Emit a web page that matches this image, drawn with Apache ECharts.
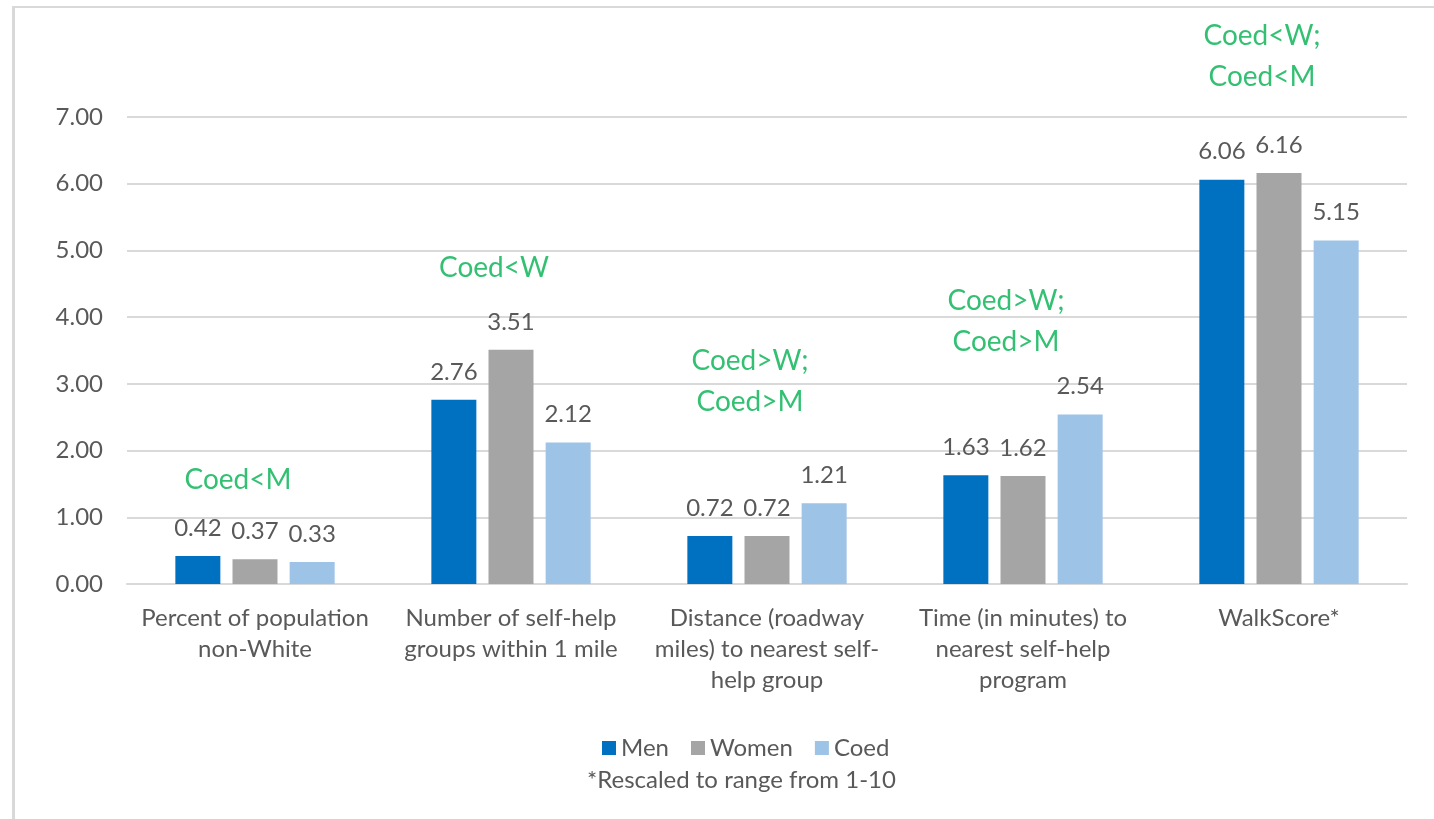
<!DOCTYPE html>
<html>
<head>
<meta charset="utf-8">
<script src="https://cdn.jsdelivr.net/npm/echarts@6/dist/echarts.min.js"></script>
<style>
  html, body { margin: 0; padding: 0; background: #fff; }
  #main { width: 1434px; height: 819px; position: relative; }
  .frame { position: absolute; left: 12px; top: 6px; right: 0; bottom: 0;
    border-top: 2px solid #d9d9d9; border-left: 3px solid #d9d9d9; pointer-events: none; }
</style>
</head>
<body>
<div id="main"></div>
<div class="frame"></div>
<script>
// categories and values
const categories = [
  'Percent of population\nnon-White',
  'Number of self-help\ngroups within 1 mile',
  'Distance (roadway\nmiles) to nearest self-\nhelp group',
  'Time (in minutes) to\nnearest self-help\nprogram',
  'WalkScore*'
]
const men = [0.42, 2.76, 0.72, 1.63, 6.06]
const women = [0.37, 3.51, 0.72, 1.62, 6.16]
const coed = [0.33, 2.12, 1.21, 2.54, 5.15]
const yTicks = [0, 1, 2, 3, 4, 5, 6, 7]

// green significance notes: [category index, y value, text]
const notes = [
  [0, 1.56, 'Coed<M'],
  [1, 4.74, 'Coed<W'],
  [2, 3.04, 'Coed>W;\nCoed>M'],
  [3, 3.93, 'Coed>W;\nCoed>M'],
  [4, 7.9, 'Coed<W;\nCoed<M']
]

const font = 'Lato, "Liberation Sans", sans-serif'
const grey = '#595959'

const myChart = echarts.init(document.getElementById('main'))

const barLabel = {
  show: true,
  position: 'top',
  distance: 16,
  fontSize: 24,
  fontFamily: font,
  color: grey,
  formatter: p => p.value.toFixed(2)
}

const option = {
  backgroundColor: '#fff',
  animation: false,
  textStyle: { fontFamily: font },
  title: {
    text: '*Rescaled to range from 1-10',
    left: 582,
    top: 763,
    textStyle: { fontSize: 24, fontWeight: 'normal', color: grey, fontFamily: font }
  },
  legend: {
    left: 597,
    top: 731,
    itemWidth: 14,
    itemHeight: 14,
    itemGap: 22,
    icon: 'rect',
    textStyle: { fontSize: 24, color: grey, fontFamily: font },
    data: ['Men', 'Women', 'Coed']
  },
  grid: {
    left: 127,
    right: 27,
    top: 117,
    bottom: 235,
    outerBoundsMode: 'none'
  },
  xAxis: {
    type: 'category',
    data: categories,
    axisTick: { show: false },
    axisLine: { lineStyle: { color: '#d9d9d9', width: 2 } },
    axisLabel: {
      fontSize: 24,
      lineHeight: 31,
      color: grey,
      margin: 19,
      interval: 0,
      fontFamily: font
    }
  },
  yAxis: {
    type: 'value',
    min: yTicks[0],
    max: yTicks[yTicks.length - 1],
    interval: 1,
    axisLine: { show: false },
    axisTick: { show: false },
    splitLine: { lineStyle: { color: '#d9d9d9', width: 2 } },
    axisLabel: {
      fontSize: 24,
      color: grey,
      margin: 24,
      fontFamily: font,
      formatter: v => v.toFixed(2)
    }
  },
  series: [
    {
      name: 'Men',
      type: 'bar',
      data: men,
      barWidth: 45,
      barGap: '27%',
      itemStyle: { color: '#0070C0' },
      label: barLabel
    },
    {
      name: 'Women',
      type: 'bar',
      data: women,
      barWidth: 45,
      barGap: '27%',
      itemStyle: { color: '#A5A5A5' },
      label: barLabel
    },
    {
      name: 'Coed',
      type: 'bar',
      data: coed,
      barWidth: 45,
      barGap: '27%',
      itemStyle: { color: '#9DC3E6' },
      label: barLabel
    },
    {
      name: 'notes',
      type: 'scatter',
      symbolSize: 0,
      clip: false,
      silent: true,
      data: notes.map(n => ({ value: [n[0], n[1]], note: n[2] })),
      label: {
        show: true,
        position: 'inside',
        offset: [-17, 0],
        fontSize: 28,
        lineHeight: 41,
        color: '#00B050',
        fontFamily: font,
        formatter: p => p.data.note
      }
    }
  ]
}
myChart.setOption(option)
</script>
</body>
</html>
